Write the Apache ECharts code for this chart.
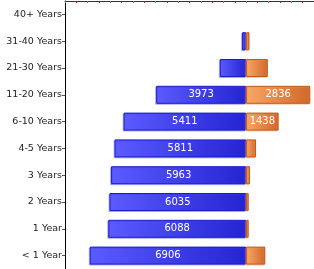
<!DOCTYPE html>
<html>
<head>
    <meta charset="utf-8">
    <title>Years</title>
    <script src="https://cdn.jsdelivr.net/npm/echarts@6/dist/echarts.min.js"></script>
    <style>
        html, body { margin: 0; padding: 0; background: #fff; }
        #chart { width: 314px; height: 269px; }
    </style>
</head>
<body>
<div id="chart"></div>
<script type="text/javascript">
    // categories bottom -> top
    var categories = ['< 1 Year', '1 Year', '2 Years', '3 Years', '4-5 Years', '6-10 Years',
        '11-20 Years', '21-30 Years', '31-40 Years', '40+ Years'];
    // left side (blue), drawn as negatives
    var blueValues = [6906, 6088, 6035, 5963, 5811, 5411, 3973, 1160, 175, 0];
    // right side (orange)
    var orangeValues = [850, 115, 115, 175, 440, 1438, 2836, 960, 150, 0];
    var labelMin = 1300;

    var chart = echarts.init(document.getElementById('chart'));

    var blueFill = new echarts.graphic.LinearGradient(0, 0, 1, 0, [
        {offset: 0, color: '#5b5bff'},
        {offset: 1, color: '#2424d2'}
    ]);
    var orangeFill = new echarts.graphic.LinearGradient(0, 0, 1, 0, [
        {offset: 0, color: '#f9a766'},
        {offset: 1, color: '#d0672a'}
    ]);

    // zero values are left out so no empty border shows
    var blueData = blueValues.map(function (v) {
        if (!v) return '-';
        return {value: -v, label: {show: v >= labelMin}};
    });
    var orangeData = orangeValues.map(function (v) {
        if (!v) return '-';
        return {value: v, label: {show: v >= labelMin}};
    });

    var barLabel = {
        position: 'inside',
        color: '#fff',
        fontFamily: 'DejaVu Sans',
        fontSize: 10,
        formatter: function (p) { return Math.abs(p.value); }
    };

    chart.setOption({
        animation: false,
        grid: {left: 65, right: 0, top: 1, bottom: 0, containLabel: false},
        xAxis: {
            type: 'value',
            position: 'top',
            min: -8000,
            max: 3000,
            interval: 1000,
            axisLine: {show: true, lineStyle: {color: '#333', width: 1}},
            axisTick: {show: true, inside: true, length: 2, lineStyle: {color: '#777'}},
            minorTick: {show: true, splitNumber: 2, length: 2, lineStyle: {color: '#e00000'}},
            axisLabel: {show: false},
            splitLine: {show: false}
        },
        yAxis: {
            type: 'category',
            data: categories,
            axisLine: {show: true, onZero: false, lineStyle: {color: '#000', width: 1}},
            axisTick: {show: true, alignWithLabel: true, length: 3, lineStyle: {color: '#555'}},
            axisLabel: {
                color: '#222',
                fontFamily: 'DejaVu Sans',
                fontSize: 9.5,
                margin: 3
            },
            splitLine: {show: false}
        },
        series: [{
            name: 'left',
            type: 'bar',
            stack: 'total',
            barWidth: 18,
            data: blueData,
            itemStyle: {color: blueFill, borderColor: '#1c1cc4', borderWidth: 1,
                shadowColor: 'rgba(60,60,255,0.35)', shadowOffsetX: -1, shadowOffsetY: 1},
            label: barLabel
        }, {
            name: 'right',
            type: 'bar',
            stack: 'total',
            barWidth: 18,
            data: orangeData,
            itemStyle: {color: orangeFill, borderColor: '#bf5a1c', borderWidth: 1,
                shadowColor: 'rgba(240,140,70,0.35)', shadowOffsetX: -1, shadowOffsetY: 1},
            label: barLabel
        }]
    });
</script>
</body>
</html>
